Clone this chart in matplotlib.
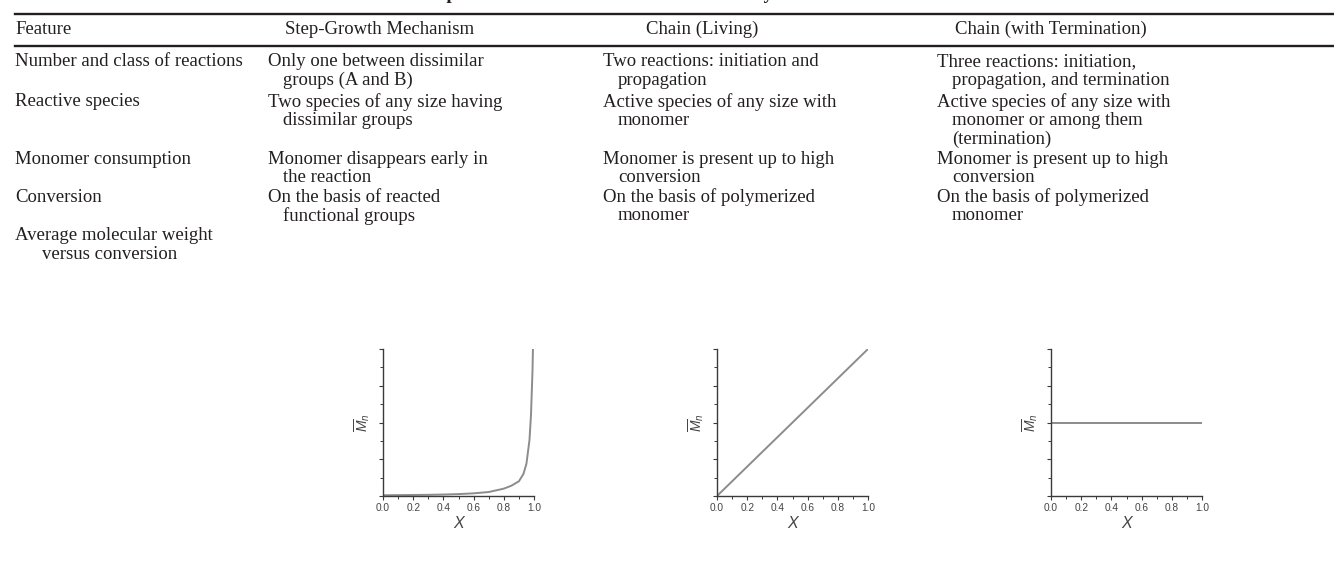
import matplotlib
matplotlib.use("Agg")
import matplotlib.pyplot as plt
from matplotlib.lines import Line2D
from matplotlib.ticker import MultipleLocator, NullFormatter
import numpy as np

# ---------------- data ----------------
title_text = "Comparison between the Mechanisms of Polymerization"
headers = ["Feature", "Step-Growth Mechanism", "Chain (Living)", "Chain (with Termination)"]

features = [["Number and class of reactions"],
            ["Reactive species"],
            ["Monomer consumption"],
            ["Conversion"],
            ["Average molecular weight", "versus conversion"]]
step_growth = [["Only one between dissimilar", "groups (A and B)"],
               ["Two species of any size having", "dissimilar groups"],
               ["Monomer disappears early in", "the reaction"],
               ["On the basis of reacted", "functional groups"]]
chain_living = [["Two reactions: initiation and", "propagation"],
                ["Active species of any size with", "monomer"],
                ["Monomer is present up to high", "conversion"],
                ["On the basis of polymerized", "monomer"]]
chain_term = [["Three reactions: initiation,", "propagation, and termination"],
              ["Active species of any size with", "monomer or among them", "(termination)"],
              ["Monomer is present up to high", "conversion"],
              ["On the basis of polymerized", "monomer"]]

# curves (conversion X vs relative Mn)
step_x = [0.0, 0.1, 0.2, 0.3, 0.4, 0.5, 0.6, 0.7, 0.8, 0.85, 0.9, 0.93, 0.95, 0.97, 0.98, 0.99, 0.993]
step_y = [0.005, 0.006, 0.007, 0.008, 0.01, 0.013, 0.018, 0.027, 0.05, 0.07, 0.10, 0.15, 0.22, 0.38, 0.55, 0.85, 1.0]
living_x = [0.0, 1.0]
living_y = [0.0, 1.0]
term_x = [0.0, 1.0]
term_y = [0.5, 0.5]
xtick_vals = [0.0, 0.2, 0.4, 0.6, 0.8, 1.0]
xtick_labels = ["0.0", "0.2", "0.4", "0.6", "0.8", "1.0"]

# ---------------- layout ----------------
W, H = 1334, 569
fig = plt.figure(figsize=(W / 100, H / 100), dpi=100)
plt.rcParams['mathtext.fontset'] = 'custom'
plt.rcParams['mathtext.it'] = 'Liberation Sans:italic'
plt.rcParams['mathtext.rm'] = 'Liberation Sans'

SERIF = "Liberation Serif"
SANS = "Liberation Sans"
TXT = "#231f20"
FS = 13.5

def fx(x):
    return x / W

def fy(y):
    return 1 - y / H

def hline(y, x0, x1, lw=1.7):
    fig.add_artist(Line2D([fx(x0), fx(x1)], [fy(y), fy(y)], color=TXT, lw=lw,
                          transform=fig.transFigure))

# title (cropped at the top edge, only descenders visible as in the reference)
t = fig.text(fx(0), fy(-1), title_text, fontfamily=SERIF, fontweight="bold",
             fontsize=FS, color=TXT, va="baseline", ha="left")
fig.canvas.draw()
r = fig.canvas.get_renderer()
tmp = fig.text(0, 0, "Com", fontfamily=SERIF, fontweight="bold", fontsize=FS)
w_com = tmp.get_window_extent(r).width
tmp.remove()
t.set_x(fx(447 - w_com))

hline(14, 15, W)
hline(46, 15, W)

col_x = [15, 268, 603, 937]
indent = [27, 15, 15, 15]
header_cx = [None, 380, 702, 1051]
fig.text(fx(col_x[0]), fy(29), headers[0], fontfamily=SERIF, fontsize=FS,
         color=TXT, va="center", ha="left")
for i in range(1, 4):
    fig.text(fx(header_cx[i]), fy(29), headers[i], fontfamily=SERIF, fontsize=FS,
             color=TXT, va="center", ha="center")

row_y = [62, 102, 159, 197, 236]
LS = 18.7
columns = [features, step_growth, chain_living, chain_term]
for ci, col in enumerate(columns):
    for ri, cell in enumerate(col):
        for li, line in enumerate(cell):
            x = col_x[ci] + (indent[ci] if li > 0 else 0)
            fig.text(fx(x), fy(row_y[ri] + li * LS), line, fontfamily=SERIF,
                     fontsize=FS, color=TXT, va="center", ha="left")

# small plots
plot_left = [383, 717, 1051]
plot_w = 151
top, bottom = 349, 496
series = [(step_x, step_y), (living_x, living_y), (term_x, term_y)]
AX = "#3a3a3a"
for pl, (sx, sy) in zip(plot_left, series):
    ax = fig.add_axes([fx(pl), fy(bottom), plot_w / W, (bottom - top) / H])
    ax.plot(sx, sy, color="#8c8c8c", lw=1.4, solid_capstyle="butt")
    ax.set_xlim(0, 1.0)
    ax.set_ylim(0, 1.0)
    for s in ["top", "right"]:
        ax.spines[s].set_visible(False)
    for s in ["left", "bottom"]:
        ax.spines[s].set_color(AX)
        ax.spines[s].set_linewidth(1.0)
    ax.set_xticks(xtick_vals)
    ax.set_xticklabels(xtick_labels)
    ax.xaxis.set_minor_locator(MultipleLocator(0.1))
    ax.yaxis.set_major_locator(MultipleLocator(0.25))
    ax.yaxis.set_minor_locator(MultipleLocator(0.125))
    ax.yaxis.set_major_formatter(NullFormatter())
    ax.tick_params(axis="both", which="major", length=3, width=0.8, color=AX,
                   labelsize=7.3, labelcolor="#444444", pad=2)
    ax.tick_params(axis="both", which="minor", length=2, width=0.7, color=AX)
    for lab in ax.get_xticklabels():
        lab.set_fontfamily(SANS)
    ax.set_xlabel("X", fontfamily=SANS, fontstyle="italic", fontsize=11.5,
                  color="#444444", labelpad=2)
    ax.set_ylabel(r"$\overline{M}_n$", fontsize=10, color="#444444")
    ax.yaxis.set_label_coords(-0.075, 0.5)
    ax.patch.set_alpha(0)

fig.savefig("out.png", dpi=100)
